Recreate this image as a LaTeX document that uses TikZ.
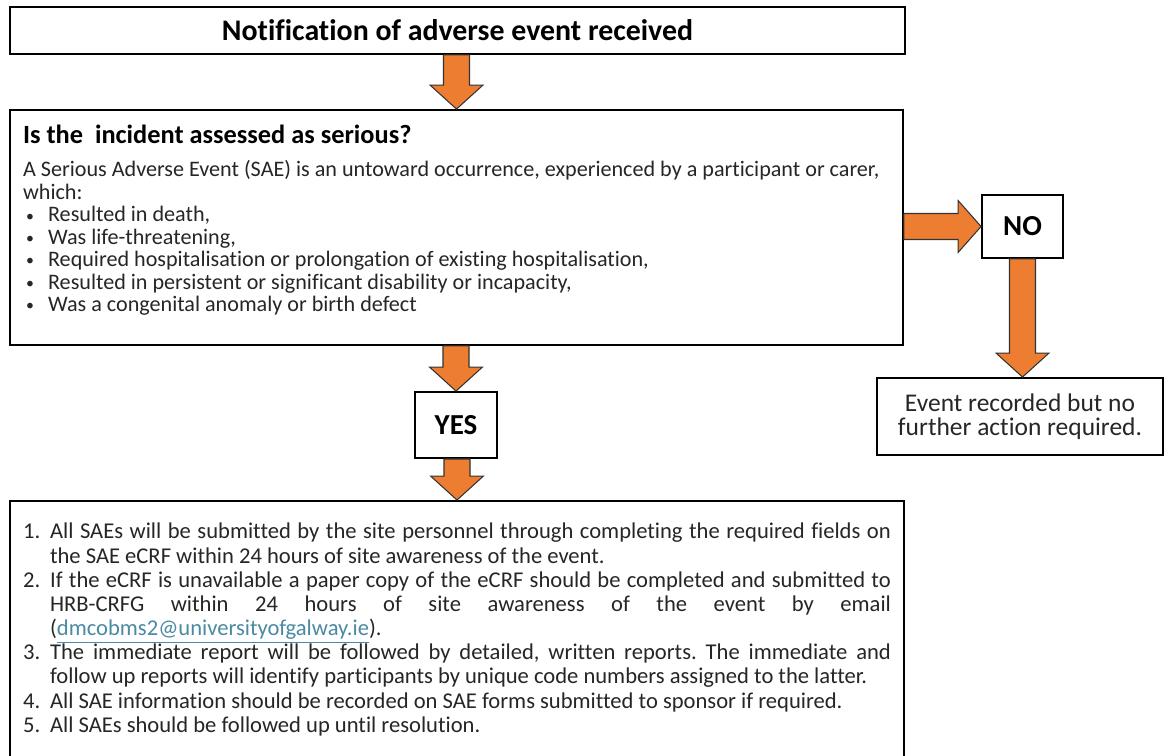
\documentclass[tikz,border=0pt]{standalone}
\usepackage{fontspec}
\setmainfont{Carlito}[Ligatures=NoCommon]
\usetikzlibrary{calc}

\definecolor{arroworange}{HTML}{ED7D31}
\definecolor{arrowline}{HTML}{333333}
\definecolor{bodytext}{HTML}{262626}
\definecolor{linkteal}{HTML}{4A8AA3}

\tikzset{
  box/.style={draw=black, line width=1.1pt, fill=white, inner sep=0pt, text=bodytext},
  boldbox/.style={box, text=black, font=\bfseries\fontsize{16.5}{19}\selectfont},
  blockarrow/.style={draw=arrowline, fill=arroworange, line width=0.6pt, line join=miter},
}

% fat arrow pointing down, tip on the second point
\newcommand{\blockdown}[2]{%
  \draw[blockarrow] let \p1=(#1), \p2=(#2) in
    ({\x2-7.4pt},\y1) -- ({\x2+7.4pt},\y1) -- ({\x2+7.4pt},{\y2+13.6pt})
    -- ({\x2+15pt},{\y2+13.6pt}) -- (\x2,\y2) -- ({\x2-15pt},{\y2+13.6pt})
    -- ({\x2-7.4pt},{\y2+13.6pt}) -- cycle;}
% fat arrow pointing right
\newcommand{\blockright}[2]{%
  \draw[blockarrow] let \p1=(#1), \p2=(#2) in
    (\x1,{\y2+7.4pt}) -- ({\x2-13pt},{\y2+7.4pt}) -- ({\x2-13pt},{\y2+14.7pt})
    -- (\x2,\y2) -- ({\x2-13pt},{\y2-14.7pt}) -- ({\x2-13pt},{\y2-7.4pt})
    -- (\x1,{\y2-7.4pt}) -- cycle;}

\newcommand{\bulletline}[1]{\makebox[0.5cm][l]{\hspace{0.06cm}\raisebox{0.4pt}{\fontsize{9}{9}\selectfont\textbullet}}#1\par}
\newcommand{\numline}[2]{\hangindent=0.54cm\hangafter=1\noindent\makebox[0.54cm][l]{#1}#2\par}

\begin{document}
\frenchspacing
\begin{tikzpicture}[x=0.02cm, y=-0.02cm]
  \useasboundingbox (0,0) rectangle (1169,755);

  % Boxes
  \node[box, minimum width=17.9cm, minimum height=0.94cm, text=black,
        font=\bfseries\fontsize{17}{20}\selectfont] (notif) at (457.5,30.5)
        {Notification of adverse event received};

  \node[box, minimum width=17.86cm] (serious) at (456.5,227.5)
    {\parbox[c][4.7cm][t]{17.34cm}{\raggedright\fontsize{12.6}{12.76}\selectfont
      \rule{0pt}{0.66cm}{\bfseries\fontsize{15}{18}\selectfont\color{black}Is the\ \ incident assessed as serious?}\par
      \vspace{0.23cm}
      A Serious Adverse Event (SAE) is an untoward occurrence, experienced by a participant or carer,\newline which:\par
      \bulletline{Resulted in death,}
      \bulletline{Was life-threatening,}
      \bulletline{Required hospitalisation or prolongation of existing hospitalisation,}
      \bulletline{Resulted in persistent or significant disability or incapacity,}
      \bulletline{Was a congenital anomaly or birth defect}}};

  \node[boldbox, minimum width=1.62cm, minimum height=1.26cm] (no) at (1022.5,226.5) {NO};
  \node[boldbox, minimum width=1.64cm, minimum height=1.32cm] (yes) at (456,425) {YES};

  \node[box, minimum width=5.72cm, minimum height=1.54cm, align=center,
        font=\fontsize{14.5}{13.6}\selectfont] (event) at (1020,416.5)
        {Event recorded but no\\further action required.};

  \node[box, minimum width=17.88cm, anchor=north] (actions) at (457,500)
    {\parbox[c][5.6cm][t]{17.36cm}{\fontsize{12.85}{13.75}\selectfont
      \hyphenpenalty=10000\exhyphenpenalty=10000
      \numline{\rule{0pt}{0.76cm}1.}{All SAEs will be submitted by the site personnel through completing the required fields on\linebreak the SAE eCRF within 24 hours of site awareness of the event.}
      \numline{2.}{If the eCRF is unavailable a paper copy of the eCRF should be completed and submitted to\linebreak HRB-CRFG within 24 hours of site awareness of the event by email\linebreak (\textcolor{linkteal}{\underline{dmcobms2@universityofgalway.ie}}).}
      \numline{3.}{The immediate report will be followed by detailed, written reports. The immediate and\linebreak follow up reports will identify participants by unique code numbers assigned to the latter.}
      \numline{4.}{All SAE information should be recorded on SAE forms submitted to sponsor if required.}
      \numline{5.}{All SAEs should be followed up until resolution.}}};

  % Arrows between the boxes
  \blockdown{notif.south}{serious.north}
  \blockright{serious.east}{no.west}
  \blockdown{serious.south}{yes.north}
  \blockdown{yes.south}{actions.north}
  \blockdown{no.south}{event.north -| no.south}
\end{tikzpicture}
\end{document}
